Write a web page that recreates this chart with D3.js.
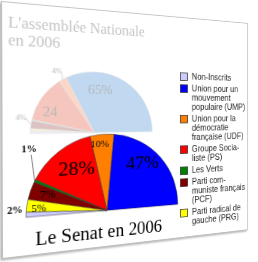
<!DOCTYPE html>
<html>
<head>
<meta charset="utf-8">
<script src="https://cdn.jsdelivr.net/npm/d3@7"></script>
<style>
  html, body { margin: 0; padding: 0; background: #fff; overflow: hidden; }
  #stage { position: absolute; left: 0; top: 0; width: 286px; height: 260px; transform-origin: 0 0; }
  svg { overflow: visible; }
  text { font-family: "Liberation Serif", "Times New Roman", serif; }
  .legend text { font-family: "Liberation Sans", Arial, sans-serif; font-size: 10px; fill: #222; }
</style>
</head>
<body>
<div id="stage"><svg id="chart" width="286" height="260"></svg></div>
<script>
// parties in legend order
const parties = ['Non-Inscrits', 'UMP', 'UDF', 'PS', 'Verts', 'PCF', 'PRG'];
const legendLines = [
  ['Non-Inscrits'],
  ['Union pour un', 'mouvement', 'populaire (UMP)'],
  ['Union pour la', 'démocratie', 'française (UDF)'],
  ['Groupe Socia-', 'liste (PS)'],
  ['Les Verts'],
  ['Parti com-', 'muniste français', '(PCF)'],
  ['Parti radical de', 'gauche (PRG)']
];
const senatColors = ['#ccccff', '#0000ff', '#ff8000', '#ff0000', '#008000', '#800000', '#ffff00'];
const assembleeColors = ['#eeeef8', '#c0d8f0', '#fcd6c6', '#f5c6be', '#c8e0c8', '#dcc2c2', '#fffad0'];

// seat shares (%)
const senat = [2, 47, 10, 28, 1, 7, 5];
const assemblee = [1.5, 65, 4, 24, 0.5, 4, 1];
const senatLabels = ['2%', '47%', '10%', '28%', '1%', '7%', '5%'];
const assembleeLabels = ['', '65%', '4%', '24', '', '4%', ''];

const W = 286, H = 260;
// where the flat panel's corners land on screen (TL, TR, BR, BL)
const corners = [[1, 1], [248, 23], [248, 230], [2, 259]];

function squareToQuad(p) {
  const [x0, y0] = p[0], [x1, y1] = p[1], [x2, y2] = p[2], [x3, y3] = p[3];
  const dx1 = x1 - x2, dx2 = x3 - x2, dx3 = x0 - x1 + x2 - x3;
  const dy1 = y1 - y2, dy2 = y3 - y2, dy3 = y0 - y1 + y2 - y3;
  const den = dx1 * dy2 - dx2 * dy1;
  const g = (dx3 * dy2 - dx2 * dy3) / den;
  const h = (dx1 * dy3 - dx3 * dy1) / den;
  return {
    a: x1 - x0 + g * x1, b: x3 - x0 + h * x3, c: x0,
    d: y1 - y0 + g * y1, e: y3 - y0 + h * y3, f: y0, g, h
  };
}
const m = squareToQuad(corners);
d3.select('#stage').style('transform',
  `matrix3d(${m.a / W},${m.d / W},0,${m.g / W},${m.b / H},${m.e / H},0,${m.h / H},0,0,1,0,${m.c},${m.f},0,1)`);

const svg = d3.select('#chart');

const defs = svg.append('defs');
defs.append('filter').attr('id', 'shadow')
  .attr('x', '-10%').attr('y', '-10%').attr('width', '120%').attr('height', '120%')
  .append('feDropShadow')
  .attr('dx', -1.5).attr('dy', 1.5).attr('stdDeviation', 1.2)
  .attr('flood-color', '#777').attr('flood-opacity', 0.6);

svg.append('rect')
  .attr('x', 0.5).attr('y', 0.5)
  .attr('width', W - 1).attr('height', H - 1)
  .attr('fill', '#fff')
  .attr('stroke', '#b8b8b8')
  .attr('stroke-width', 0.8)
  .attr('filter', 'url(#shadow)');

// pie order: from the right (UMP) round the top to the left (Non-Inscrits)
const pieOrder = [1, 2, 3, 4, 5, 6, 0];
const pie = d3.pie()
  .sort(null)
  .value((i) => i.v)
  .startAngle(Math.PI / 2)
  .endAngle(-Math.PI / 2);

const toXY = (phi, r) => [r * Math.cos(phi * Math.PI / 180), -r * Math.sin(phi * Math.PI / 180)];

function drawPie(cfg) {
  const g = svg.append('g').attr('transform', `translate(${cfg.cx}, ${cfg.cy})`);
  const arcs = pie(pieOrder.map((i) => ({ i, v: cfg.values[i] })));
  const arc = d3.arc().innerRadius(0).outerRadius(cfg.r);

  g.selectAll('path')
    .data(arcs)
    .enter()
    .append('path')
    .attr('d', arc)
    .attr('fill', (a) => cfg.colors[a.data.i])
    .attr('stroke', cfg.stroke)
    .attr('stroke-width', cfg.strokeWidth)
    .attr('stroke-linejoin', 'round');

  arcs.forEach((a) => {
    const name = parties[a.data.i];
    const lab = cfg.labels[a.data.i];
    const pos = cfg.labelPos[name];
    if (!lab || !pos) return;
    const [x, y] = toXY(pos.phi, pos.r);
    if (pos.leader) {
      const mid = (a.startAngle + a.endAngle) / 2;
      const ex = cfg.r * Math.sin(mid), ey = -cfg.r * Math.cos(mid);
      g.append('line')
        .attr('x1', x + pos.leader[0]).attr('y1', y + pos.leader[1])
        .attr('x2', ex).attr('y2', ey)
        .attr('stroke', cfg.leaderColor)
        .attr('stroke-width', 0.7);
    }
    g.append('text')
      .attr('x', x).attr('y', y)
      .attr('text-anchor', 'middle')
      .attr('dominant-baseline', 'central')
      .attr('font-size', pos.size)
      .attr('font-weight', pos.bold ? 'bold' : 'normal')
      .attr('fill', cfg.textColor)
      .text(lab);
  });
}

// faded chart behind: l'Assemblée nationale
svg.append('text')
  .attr('x', 6.5).attr('y', 25.6)
  .attr('font-size', 16)
  .attr('fill', '#c4c4c4')
  .text("L'assemblée Nationale");
svg.append('text')
  .attr('x', 6.5).attr('y', 43.8)
  .attr('font-size', 16)
  .attr('fill', '#c4c4c4')
  .text('en 2006');

drawPie({
  cx: 93.5, cy: 134, r: 66,
  values: assemblee, colors: assembleeColors, labels: assembleeLabels,
  stroke: '#e4e4e4', strokeWidth: 0.6, textColor: '#b8b8b8', leaderColor: '#c8c8c8',
  labelPos: {
    PCF: { phi: 167.7, r: 76.7, size: 8, leader: [5, 1] },
    PS: { phi: 153, r: 51.8, size: 15 },
    UDF: { phi: 121, r: 76, size: 8, leader: [5, 3] },
    UMP: { phi: 82, r: 47.6, size: 15 }
  }
});

// le Sénat
drawPie({
  cx: 107, cy: 220, r: 84,
  values: senat, colors: senatColors, labels: senatLabels,
  stroke: '#333', strokeWidth: 0.5, textColor: '#000', leaderColor: '#555',
  labelPos: {
    'Non-Inscrits': { phi: 175, r: 95, size: 10, bold: true },
    PRG: { phi: 172.8, r: 72, size: 11 },
    PCF: { phi: 161, r: 66, size: 12 },
    Verts: { phi: 139, r: 107, size: 10, bold: true, leader: [2, 6] },
    PS: { phi: 124, r: 58, size: 21 },
    UDF: { phi: 96, r: 74, size: 11 },
    UMP: { phi: 51, r: 65, size: 21 }
  }
});

svg.append('text')
  .attr('x', 32).attr('y', 250)
  .attr('font-size', 20)
  .attr('fill', '#000')
  .text('Le Senat en 2006');

// legend
const legend = svg.append('g').attr('class', 'legend');
const lineH = 11, gap = 3, sw = 9;
let ly = 70;
legendLines.forEach((lines, i) => {
  legend.append('rect')
    .attr('x', 194.5).attr('y', ly - sw / 2)
    .attr('width', sw).attr('height', sw)
    .attr('fill', senatColors[i])
    .attr('stroke', '#333')
    .attr('stroke-width', 0.8);
  lines.forEach((t, k) => {
    legend.append('text')
      .attr('x', 209).attr('y', ly + k * lineH)
      .attr('dominant-baseline', 'central')
      .text(t);
  });
  ly += lines.length * lineH + gap;
});
</script>
</body>
</html>
